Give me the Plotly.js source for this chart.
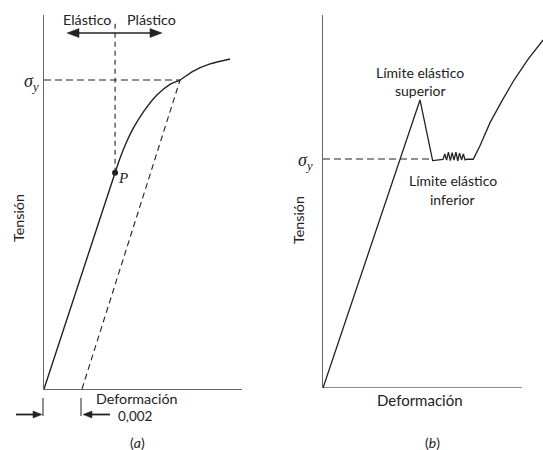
<!DOCTYPE html>
<html>
<head>
<meta charset="utf-8">
<script src="https://cdn.plot.ly/plotly-3.0.1.min.js"></script>
<style>html,body{margin:0;padding:0;background:#fff;}#chart{width:543px;height:450px;}</style>
</head>
<body>
<div id="chart"></div>
<script>
// ---------- Data ----------
// Panel (a): strain (dimensionless), stress in units of sigma_y
const strainA = [0, 0.00374, 0.0040, 0.00435, 0.0047, 0.00523, 0.00593, 0.00663, 0.00716, 0.00786, 0.00874, 0.00979];
const stressA = [0, 0.700, 0.747, 0.800, 0.844, 0.897, 0.951, 0.986, 1.000, 1.029, 1.052, 1.068];
const offsetStrain = [0.002, 0.00716];
const offsetStress = [0, 1.0];
const sigmaY = 1.0;
const yieldStrainA = 0.00716;
const pointP = [0.00374, 0.700];
const limitTopA = 1.19;

// Panel (b): arbitrary strain units, stress in units of sigma_y
const strainB = [0, 0.4874, 0.551, 0.598,
  0.603, 0.612, 0.621, 0.630, 0.640, 0.649, 0.658, 0.668, 0.677, 0.686, 0.696, 0.705, 0.714, 0.7236,
  0.755, 0.790, 0.840, 0.900, 0.960, 1.030, 1.106];
const stressB = [0, 1.258, 0.993, 0.998,
  0.998, 1.022, 0.995, 1.03, 0.993, 1.028, 0.995, 1.03, 0.992, 1.026, 0.996, 1.022, 0.996, 0.999,
  0.999, 1.060, 1.160, 1.255, 1.345, 1.435, 1.52];
const lowerYieldStrainB = 0.551;
const axisEndB = 1.0;

// ---------- Layout helpers (pixel -> paper) ----------
const W = 543, H = 450;
const PX = x => x / W;
const PY = y => 1 - y / H;

const ink = '#222';
const axisCol = '#666';
const sans = 'Lato, "Open Sans", sans-serif';
const serif = '"Liberation Serif", "Times New Roman", serif';

const traces = [
  {x: strainA, y: stressA, xaxis: 'x', yaxis: 'y', mode: 'lines', line: {color: ink, width: 1.4, shape: 'spline', smoothing: 0.6}, hoverinfo: 'skip'},
  {x: offsetStrain, y: offsetStress, xaxis: 'x', yaxis: 'y', mode: 'lines', line: {color: ink, width: 1.1, dash: '6px,4px'}, hoverinfo: 'skip'},
  {x: [0, yieldStrainA], y: [sigmaY, sigmaY], xaxis: 'x', yaxis: 'y', mode: 'lines', line: {color: ink, width: 1.1, dash: '7px,4px'}, hoverinfo: 'skip'},
  {x: [pointP[0], pointP[0]], y: [pointP[1], limitTopA], xaxis: 'x', yaxis: 'y', mode: 'lines', line: {color: ink, width: 1.1, dash: '5px,4px'}, hoverinfo: 'skip'},
  {x: [pointP[0]], y: [pointP[1]], xaxis: 'x', yaxis: 'y', mode: 'markers', marker: {color: ink, size: 6}, cliponaxis: false, hoverinfo: 'skip'},
  {x: strainB, y: stressB, xaxis: 'x2', yaxis: 'y2', mode: 'lines', line: {color: ink, width: 1.3}, hoverinfo: 'skip'},
  {x: [0, lowerYieldStrainB], y: [sigmaY, sigmaY], xaxis: 'x2', yaxis: 'y2', mode: 'lines', line: {color: ink, width: 1.1, dash: '7px,4px'}, hoverinfo: 'skip'}
];

const axBase = {showgrid: false, zeroline: false, showticklabels: false, ticks: '', fixedrange: true};

const txt = (text, x, y, size, extra) => Object.assign({
  text, xref: 'paper', yref: 'paper', x: PX(x), y: PY(y), xanchor: 'center', yanchor: 'middle',
  showarrow: false, borderpad: 0, font: {family: sans, size: size, color: ink}
}, extra || {});

const sig = '<i>σ</i><sub><i>y</i></sub>';
const annotations = [
  txt('Elástico', 87, 20, 14.3),
  txt('Plástico', 151, 20, 14.3),
  txt(sig, 31, 82, 18, {font: {family: serif, size: 18, color: ink}}),
  txt('<i>P</i>', 123, 178, 15, {font: {family: serif, size: 15, color: ink}}),
  txt('Tensión', 18, 218, 14.3, {textangle: -90}),
  txt('Deformación', 137, 398, 14.3),
  txt('0,002', 135, 416, 13.5),
  txt('(<i>a</i>)', 137, 442, 14),
  txt(sig, 305, 161, 18, {font: {family: serif, size: 18, color: ink}}),
  txt('Tensión', 298, 220, 14.3, {textangle: -90}),
  txt('Límite elástico', 420, 72, 14),
  txt('superior', 420, 91, 14),
  txt('Límite elástico', 453, 180, 14),
  txt('inferior', 452, 199, 14),
  txt('Deformación', 420, 400, 15),
  txt('(<i>b</i>)', 432, 442, 14)
];

// arrow decorations in pixel space
const seg = (x0, y0, x1, y1, w) => ({type: 'line', xref: 'paper', yref: 'paper', x0: PX(x0), y0: PY(y0), x1: PX(x1), y1: PY(y1), line: {color: ink, width: w}});
const head = (tipX, y, dir, L, h) => ({type: 'path', xref: 'paper', yref: 'paper',
  path: `M ${PX(tipX)} ${PY(y)} L ${PX(tipX - dir * L)} ${PY(y - h)} L ${PX(tipX - dir * L)} ${PY(y + h)} Z`,
  fillcolor: ink, line: {color: ink, width: 0.5}});

const shapes = [
  // Elástico / Plástico double arrow
  seg(72, 33, 157, 33, 1.6), head(67, 33, -1, 12, 4.5), head(162, 33, 1, 12, 4.5),
  // 0,002 dimension marks
  seg(43, 398, 43, 416, 1), seg(81, 398, 81, 416, 1),
  seg(16, 414.5, 35, 414.5, 1.8), head(42, 414.5, 1, 9, 3.5),
  seg(90, 414.5, 110, 414.5, 1.8), head(83, 414.5, -1, 9, 3.5),
  // x axis line of panel (b)
  {type: 'line', xref: 'x2', yref: 'y2', x0: 0, x1: axisEndB, y0: 0, y1: 0, line: {color: axisCol, width: 1.4}, layer: 'below'}
];

const layout = {
  width: W, height: H,
  margin: {l: 0, r: 0, t: 0, b: 0},
  paper_bgcolor: '#fff', plot_bgcolor: 'rgba(0,0,0,0)',
  showlegend: false,
  xaxis: Object.assign({}, axBase, {domain: [PX(44), PX(242)], range: [0, 0.01042], showline: true, linecolor: axisCol, linewidth: 1.3, anchor: 'y'}),
  yaxis: Object.assign({}, axBase, {domain: [PY(389), PY(15)], range: [0, 1.2104], showline: true, linecolor: axisCol, linewidth: 1.3, anchor: 'x'}),
  xaxis2: Object.assign({}, axBase, {domain: [PX(323), 1], range: [0, 1.1055], showline: false, anchor: 'y2'}),
  yaxis2: Object.assign({}, axBase, {domain: [PY(388), PY(15)], range: [0, 1.629], showline: true, linecolor: axisCol, linewidth: 1.4, anchor: 'x2'}),
  annotations, shapes
};

Plotly.newPlot('chart', traces, layout, {staticPlot: true, displayModeBar: false});
</script>
</body>
</html>
